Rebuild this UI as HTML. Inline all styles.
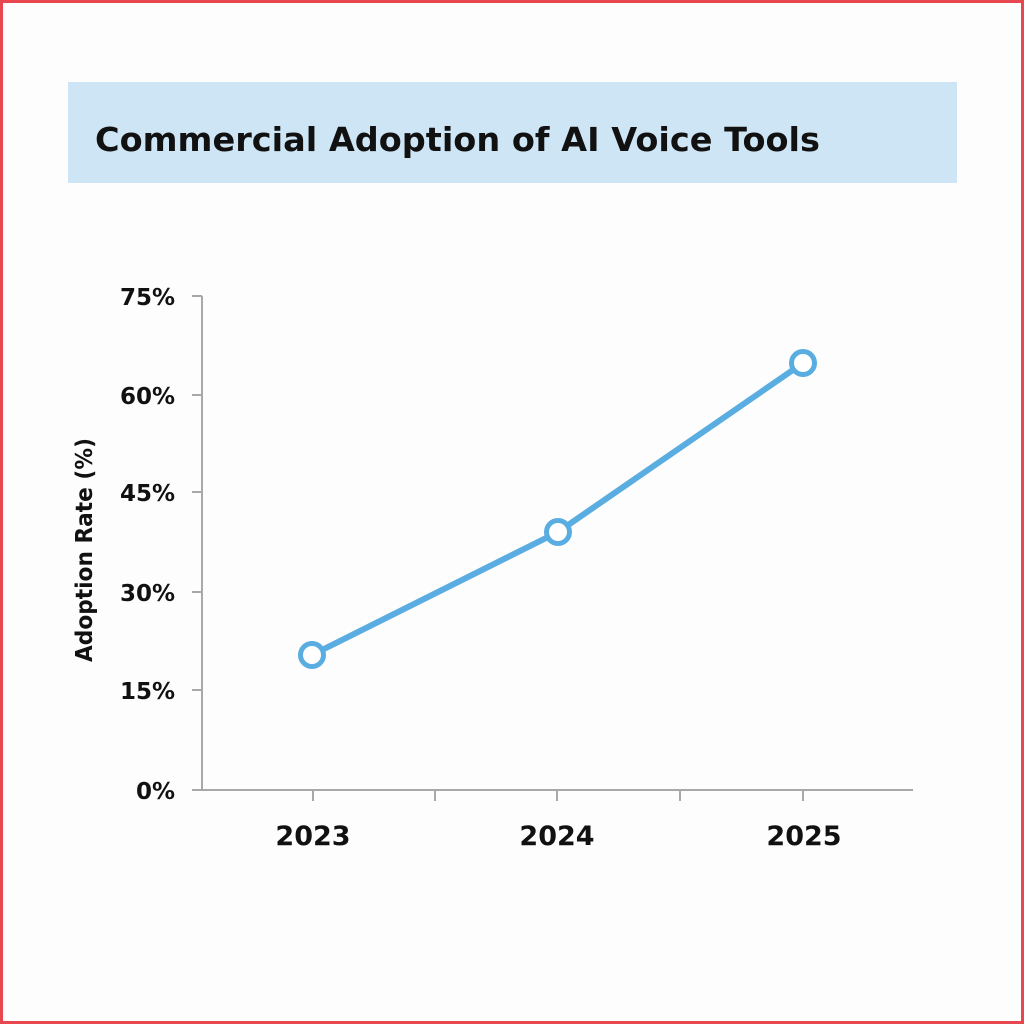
<!DOCTYPE html>
<html><head><style>
html,body{margin:0;padding:0;background:#fff}
svg{display:block}
</style></head><body>
<svg width="1024" height="1024" viewBox="0 0 1024 1024" xmlns="http://www.w3.org/2000/svg" font-family="DejaVu Sans, Liberation Sans, sans-serif">
<rect x="0" y="0" width="1024" height="1024" fill="#fdfdfd"/>
<rect x="1.5" y="1.5" width="1021" height="1021" fill="none" stroke="#e8474f" stroke-width="3"/>
<rect x="68" y="82" width="889" height="101" fill="#cde5f5"/>
<text x="95" y="151" font-size="33" font-weight="bold" fill="#111" textLength="725" lengthAdjust="spacingAndGlyphs">Commercial Adoption of AI Voice Tools</text>
<g stroke="#a8a8a8" stroke-width="2" fill="none">
<line x1="202" y1="296" x2="202" y2="791"/>
<line x1="201" y1="790" x2="913" y2="790"/>
<line x1="192" y1="296" x2="202" y2="296"/>
<line x1="192" y1="395" x2="202" y2="395"/>
<line x1="192" y1="492" x2="202" y2="492"/>
<line x1="192" y1="592" x2="202" y2="592"/>
<line x1="192" y1="690" x2="202" y2="690"/>
<line x1="192" y1="790" x2="202" y2="790"/>
<line x1="313" y1="790" x2="313" y2="801"/>
<line x1="435" y1="790" x2="435" y2="801"/>
<line x1="557" y1="790" x2="557" y2="801"/>
<line x1="680" y1="790" x2="680" y2="801"/>
<line x1="803" y1="790" x2="803" y2="801"/>
</g>
<g font-size="23" font-weight="bold" fill="#111" text-anchor="end">
<text x="175" y="305">75%</text>
<text x="175" y="404">60%</text>
<text x="175" y="501">45%</text>
<text x="175" y="601">30%</text>
<text x="175" y="699">15%</text>
<text x="175" y="799">0%</text>
</g>
<g font-size="27" font-weight="bold" fill="#111" text-anchor="middle">
<text x="313" y="845">2023</text>
<text x="557" y="845">2024</text>
<text x="804" y="845">2025</text>
</g>
<text transform="translate(92,550) rotate(-90)" font-size="23" font-weight="bold" fill="#111" text-anchor="middle" textLength="224" lengthAdjust="spacingAndGlyphs">Adoption Rate (%)</text>
<polyline points="312,655 558,532 803,363" fill="none" stroke="#5aade0" stroke-width="6"/>
<g fill="#fff" stroke="#5aade0" stroke-width="5">
<circle cx="312" cy="655" r="11.5"/>
<circle cx="558" cy="532" r="11.5"/>
<circle cx="803" cy="363" r="11.5"/>
</g>
</svg>
</body></html>
